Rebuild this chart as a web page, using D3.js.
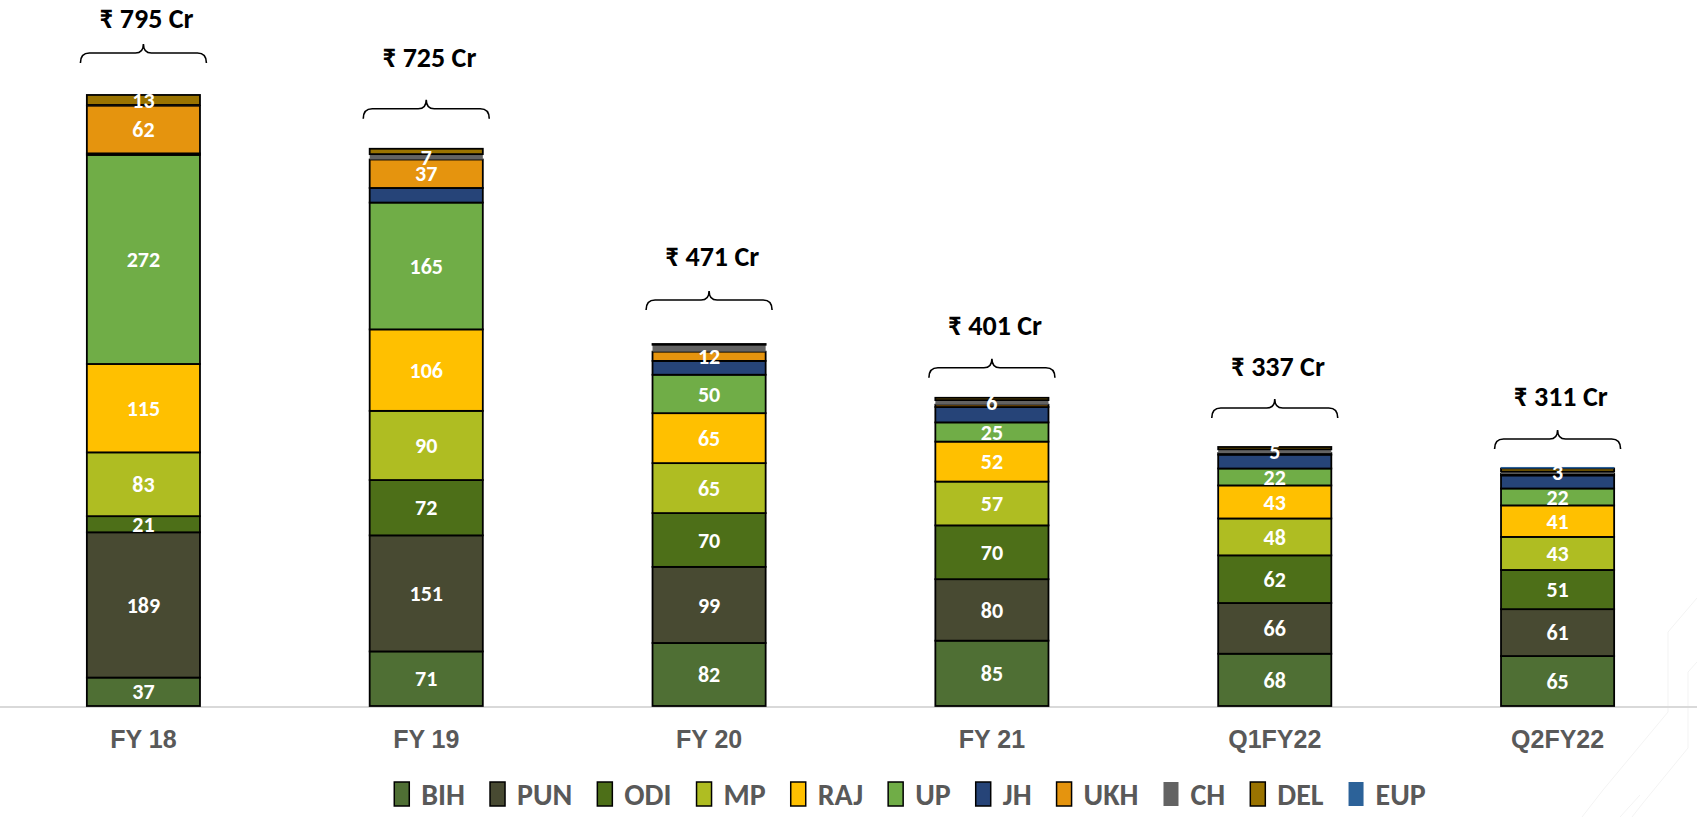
<!DOCTYPE html>
<html>
<head>
<meta charset="utf-8">
<script src="https://cdn.jsdelivr.net/npm/d3@7"></script>
<style>
  html, body { margin: 0; padding: 0; background: #fff; }
  svg { display: block; font-family: Carlito, Calibri, Lato, "Open Sans", sans-serif; }
</style>
</head>
<body>
<svg width="1697" height="817"></svg>
<script>
// periods on the x axis
const periods = ["FY 18", "FY 19", "FY 20", "FY 21", "Q1FY22", "Q2FY22"];

// states, bottom to top of each stack
const states = ["BIH", "PUN", "ODI", "MP", "RAJ", "UP", "JH", "UKH", "CH", "DEL", "EUP"];
const stateColors = ["#4f6f34", "#484a32", "#4d6f18", "#afbd22", "#ffc000", "#70ad47",
                     "#264478", "#e5940e", "#636363", "#9a7300", "#2c6299"];

// values in ₹ Cr per state, one per period
const BIH = [37, 71, 82, 85, 68, 65];
const PUN = [189, 151, 99, 80, 66, 61];
const ODI = [21, 72, 70, 70, 62, 51];
const MP  = [83, 90, 65, 57, 48, 43];
const RAJ = [115, 106, 65, 52, 43, 41];
const UP  = [272, 165, 50, 25, 22, 22];
const JH  = [2, 19, 18, 20, 18, 17];
const UKH = [62, 37, 12, 3, 2, 2];
const CH  = [1, 7, 9, 6, 5, 3];
const DEL = [13, 7, 1, 3, 3, 4];
const EUP = [0, 0, 0, 0, 0, 2];

// which of the small states got a printed label in each period
const smallLabels = [["UKH", "DEL"], ["UKH", "CH"], ["UKH"], ["CH"], ["CH"], ["CH"]];
const bigStates = ["BIH", "PUN", "ODI", "MP", "RAJ", "UP"];
const noBorder = ["CH", "EUP"];

// how far above each bar the hand placed brace / total sit (px)
const braceLift = [42, 40, 44, 30, 39, 28];
const titleLift = [43, 52, 44, 43, 42, 43];

const valuesByState = { BIH, PUN, ODI, MP, RAJ, UP, JH, UKH, CH, DEL, EUP };

const rows = periods.map((p, i) => {
  const r = { period: p };
  states.forEach(s => r[s] = valuesByState[s][i]);
  return r;
});
const totals = rows.map(r => d3.sum(states, s => r[s]));

const svg = d3.select("svg");
const baseY = 706;

const x = d3.scaleBand().domain(periods).range([2, 1699]).paddingInner(0.6).paddingOuter(0.3);
const y = d3.scaleLinear().domain([0, 800]).range([baseY, baseY - 800 * 0.7686]);
const color = d3.scaleOrdinal().domain(states).range(stateColors);

const stack = d3.stack().keys(states)(rows);

// faint background decoration, bottom right
svg.append("path")
  .attr("d", "M1697,598 L1668,632 L1668,712 L1603,790 L1582,817 M1697,662 L1688,672 L1688,748 L1643,803 L1632,817 M1620,817 L1640,795")
  .attr("fill", "none").attr("stroke", "#f3f3f3").attr("stroke-width", 1);

// baseline
svg.append("line")
  .attr("x1", 0).attr("x2", 1697)
  .attr("y1", baseY + 1).attr("y2", baseY + 1)
  .attr("stroke", "#d9d9d9").attr("stroke-width", 2);

// segments
const layers = svg.append("g").selectAll("g").data(stack).join("g")
  .attr("fill", d => color(d.key));

layers.selectAll("rect").data(d => d.map(v => Object.assign(v, { key: d.key }))).join("rect")
  .attr("x", d => x(d.data.period))
  .attr("width", x.bandwidth())
  .attr("y", d => y(d[1]))
  .attr("height", d => Math.max(0, y(d[0]) - y(d[1])))
  .attr("stroke", d => noBorder.includes(d.key) ? "none" : "#000")
  .attr("stroke-width", d => (d[1] - d[0]) > 0 ? 1.8 : 0);

// segment labels
const labelData = [];
stack.forEach(layer => {
  layer.forEach((d, i) => {
    const v = d[1] - d[0];
    if (bigStates.includes(layer.key) || smallLabels[i].includes(layer.key)) {
      labelData.push({ period: d.data.period, v, mid: (d[0] + d[1]) / 2 });
    }
  });
});

svg.append("g").selectAll("text").data(labelData).join("text")
  .attr("x", d => x(d.period) + x.bandwidth() / 2)
  .attr("y", d => y(d.mid))
  .attr("dy", "0.35em")
  .attr("text-anchor", "middle")
  .attr("fill", "#fff")
  .attr("font-weight", "bold")
  .attr("font-size", 22)
  .text(d => d.v);

// braces and totals
const tops = svg.append("g");
periods.forEach((p, i) => {
  const cx = x(p) + x.bandwidth() / 2;
  const yl = y(totals[i]) - braceLift[i];
  const x0 = cx - 63, x1 = cx + 63;
  tops.append("path")
    .attr("d", `M${x0},${yl + 10} Q${x0},${yl} ${x0 + 9},${yl} L${cx - 8},${yl} Q${cx},${yl} ${cx},${yl - 9}` +
               ` Q${cx},${yl} ${cx + 8},${yl} L${x1 - 9},${yl} Q${x1},${yl} ${x1},${yl + 10}`)
    .attr("fill", "none")
    .attr("stroke", "#000")
    .attr("stroke-width", 1.6);
  tops.append("text")
    .attr("x", cx + 3)
    .attr("y", Math.max(yl - titleLift[i], 18))
    .attr("dy", "0.35em")
    .attr("text-anchor", "middle")
    .attr("font-weight", "bold")
    .attr("font-size", 28)
    .attr("fill", "#000")
    .text(`₹ ${totals[i]} Cr`);
});

// x axis labels
const axis = d3.axisBottom(x).tickSize(0).tickPadding(0);
const gAxis = svg.append("g").attr("transform", `translate(0, ${baseY + 33})`).call(axis);
gAxis.select(".domain").remove();
gAxis.selectAll("text")
  .attr("font-family", null)
  .attr("font-size", 25)
  .attr("font-weight", "bold")
  .attr("fill", "#595959")
  .attr("dy", "0.35em");

// legend
const legend = svg.append("g");
let lx = 0;
states.forEach((s, i) => {
  const item = legend.append("g").attr("transform", `translate(${lx},0)`);
  item.append("rect")
    .attr("x", 0).attr("y", -12).attr("width", 15).attr("height", 24)
    .attr("fill", stateColors[i])
    .attr("stroke", noBorder.includes(s) ? "none" : "#000")
    .attr("stroke-width", 1.5);
  const t = item.append("text")
    .attr("x", 27).attr("dy", "0.35em")
    .attr("font-size", 30).attr("font-weight", "bold").attr("fill", "#595959")
    .text(s);
  lx += 27 + t.node().getComputedTextLength() + 25;
});
lx -= 25;
legend.attr("transform", `translate(${910 - lx / 2}, 794)`);
</script>
</body>
</html>
